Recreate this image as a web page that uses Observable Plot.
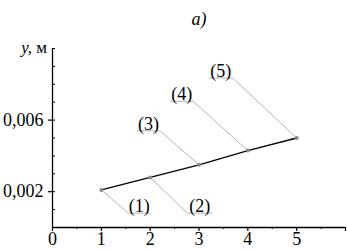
<!DOCTYPE html>
<html>
<head>
<meta charset="utf-8">
<script src="https://cdn.jsdelivr.net/npm/d3@7"></script>
<script src="https://cdn.jsdelivr.net/npm/@observablehq/plot@0.6"></script>
<style>
  html, body { margin: 0; padding: 0; background: #fff; }
  #chart svg, #chart svg text { font-family: "Liberation Serif", Tinos, "Times New Roman", "DejaVu Serif", serif !important; }
</style>
</head>
<body>
<div id="chart"></div>
<script>
// Data
const xValues = [1, 2, 3, 4, 5];
const yValues = [0.0021, 0.0028, 0.0035, 0.0043, 0.0050];
const pointLabels = ["(1)", "(2)", "(3)", "(4)", "(5)"];
// callout label underline (data units)
const labelStartX = [1.55, 2.76, 1.73, 2.41, 3.20];
const labelEndX   = [2.00, 3.27, 2.20, 2.88, 3.69];
const labelY      = [0.0008, 0.0008, 0.0054, 0.00705, 0.00835];

const xMajorTicks = [0, 1, 2, 3, 4, 5, 6];
const xTickLabels = ["0", "1", "2", "3", "4", "5", ""];
const xMinorTicks = [0.5, 1.5, 2.5, 3.5, 4.5, 5.5];
const yLabelTicks = [0.002, 0.006];
const yMinorTicks = [0, 0.001, 0.002, 0.003, 0.004, 0.005, 0.006, 0.007, 0.008, 0.009, 0.010];
const titleText = "a)";

const points = xValues.map((x, i) => ({x, y: yValues[i]}));
const callouts = xValues.map((x, i) => {
  const below = labelY[i] < yValues[i] - 0.0005 && labelStartX[i] > x;
  const endX = below ? labelStartX[i] : labelEndX[i];
  return {
    px: x, py: yValues[i], ex: endX, ey: labelY[i],
    x1: labelStartX[i], x2: labelEndX[i],
    cx: (labelStartX[i] + labelEndX[i]) / 2, label: pointLabels[i]
  };
});

const fmt = d => d3.format(".3f")(d).replace(".", ",");
const calloutColor = "#b4b4b4";

const plot = Plot.plot({
  width: 347,
  height: 251,
  marginLeft: 52,
  marginRight: 2,
  marginTop: 48,
  marginBottom: 24,
  style: {fontSize: "18px", color: "#000", background: "#fff"},
  x: {domain: [0, 6]},
  y: {domain: [0, 0.01]},
  marks: [
    // callouts
    Plot.link(callouts, {x1: "px", y1: "py", x2: "ex", y2: "ey", stroke: calloutColor, strokeWidth: 1}),
    Plot.link(callouts, {x1: "x1", y1: "ey", x2: "x2", y2: "ey", stroke: calloutColor, strokeWidth: 1}),
    Plot.text(callouts, {x: "cx", y: "ey", text: "label", lineAnchor: "bottom", dy: -1, fontSize: 18, fill: "#000"}),
    // data
    Plot.line(points, {x: "x", y: "y", stroke: "#000", strokeWidth: 1.3}),
    Plot.dot(points, {x: "x", y: "y", r: 2, fill: "#888", stroke: "none"}),
    // axes lines
    Plot.ruleX([0], {stroke: "#000", strokeWidth: 1.3}),
    Plot.ruleY([0], {stroke: "#000", strokeWidth: 1.3}),
    // x axis
    Plot.axisX(xMajorTicks, {tickSize: 4, tickPadding: 1, tickFormat: (d) => xTickLabels[xMajorTicks.indexOf(d)], fontSize: 18, label: null, strokeWidth: 1.2}),
    Plot.axisX(xMinorTicks, {tickSize: 2, tickFormat: () => "", label: null}),
    // y axis
    Plot.axisY(yLabelTicks, {tickSize: 4, tickPadding: 5, tickFormat: fmt, fontSize: 18, label: null, strokeWidth: 1.2}),
    Plot.axisY(yMinorTicks, {tickSize: -3, tickFormat: () => "", label: null}),
    // title
    Plot.text([titleText], {frameAnchor: "top", dy: -36, fontSize: 18, fontStyle: "italic", fill: "#000"})
  ]
});

// y-axis label with italic y
const svg = d3.select(plot);
const yTop = plot.scale("y").apply(0.01);
const lbl = svg.append("text")
  .attr("x", 47)
  .attr("y", yTop + 5)
  .attr("text-anchor", "end")
  .attr("font-size", 17);
lbl.append("tspan").attr("font-style", "italic").text("y,");
lbl.append("tspan").text(" м");

document.getElementById("chart").appendChild(plot);
</script>
</body>
</html>
